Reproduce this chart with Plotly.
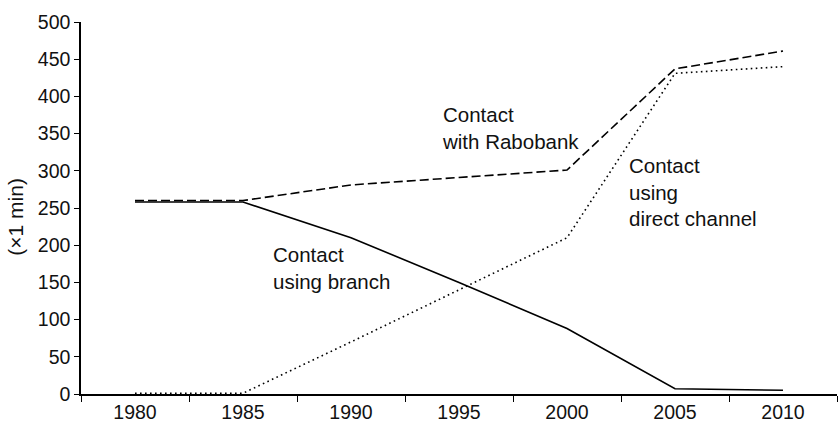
import plotly.graph_objects as go

years = ["1980", "1985", "1990", "1995", "2000", "2005", "2010"]
rabobank = [260, 260, 281, 291, 301, 437, 461]
branch = [258, 258, 210, 150, 88, 7, 5]
direct = [1, 1, 70, 140, 210, 431, 440]

y_ticks = [0, 50, 100, 150, 200, 250, 300, 350, 400, 450, 500]

FONT = "Liberation Sans, Arial, Helvetica, sans-serif"

fig = go.Figure()
fig.add_trace(go.Scatter(x=years, y=rabobank, mode="lines", name="Contact with Rabobank",
                         line=dict(color="black", width=1.6, dash="9px,4px")))
fig.add_trace(go.Scatter(x=years, y=direct, mode="lines", name="Contact using direct channel",
                         line=dict(color="black", width=1.6, dash="1.6px,3.4px")))
fig.add_trace(go.Scatter(x=years, y=branch, mode="lines", name="Contact using branch",
                         line=dict(color="black", width=1.6)))

fig.update_layout(
    width=838, height=427,
    margin=dict(l=81, r=1, t=22, b=33),
    paper_bgcolor="white", plot_bgcolor="white",
    showlegend=False,
    font=dict(family=FONT, size=19, color="#111"),
    xaxis=dict(type="category", range=[-0.5, 6.5], showgrid=False, zeroline=False,
               showline=True, linecolor="black", linewidth=1.5,
               ticks="outside", ticklen=6, tickwidth=1.2, tickcolor="black",
               tickson="boundaries", tickfont=dict(size=19.5)),
    yaxis=dict(range=[0, 500], tickvals=y_ticks, showgrid=False, zeroline=False,
               showline=True, linecolor="black", linewidth=1.5,
               ticks="outside", ticklen=5, tickwidth=1.2, tickcolor="black",
               tickfont=dict(size=19.5)),
    annotations=[
        dict(text="Contact<br>with Rabobank", xref="paper", yref="paper", x=0.475, y=0.788,
             xanchor="left", yanchor="top", align="left", showarrow=False, font=dict(size=20.5)),
        dict(text="Contact<br>using branch", xref="paper", yref="paper", x=0.251, y=0.411,
             xanchor="left", yanchor="top", align="left", showarrow=False, font=dict(size=20.5)),
        dict(text="Contact<br>using<br>direct channel", xref="paper", yref="paper", x=0.722, y=0.651,
             xanchor="left", yanchor="top", align="left", showarrow=False, font=dict(size=20.5)),
        dict(text="(\u00d71 min)", xref="paper", yref="paper", x=(15.5 - 81) / 756,
             y=(394.3 - 217.5) / 372, xanchor="center", yanchor="middle",
             textangle=-90, showarrow=False, font=dict(size=21)),
    ],
)

fig.write_html("out.html", config={"displayModeBar": False},
               post_script="document.body.style.margin='0';document.body.style.overflow='hidden';")
